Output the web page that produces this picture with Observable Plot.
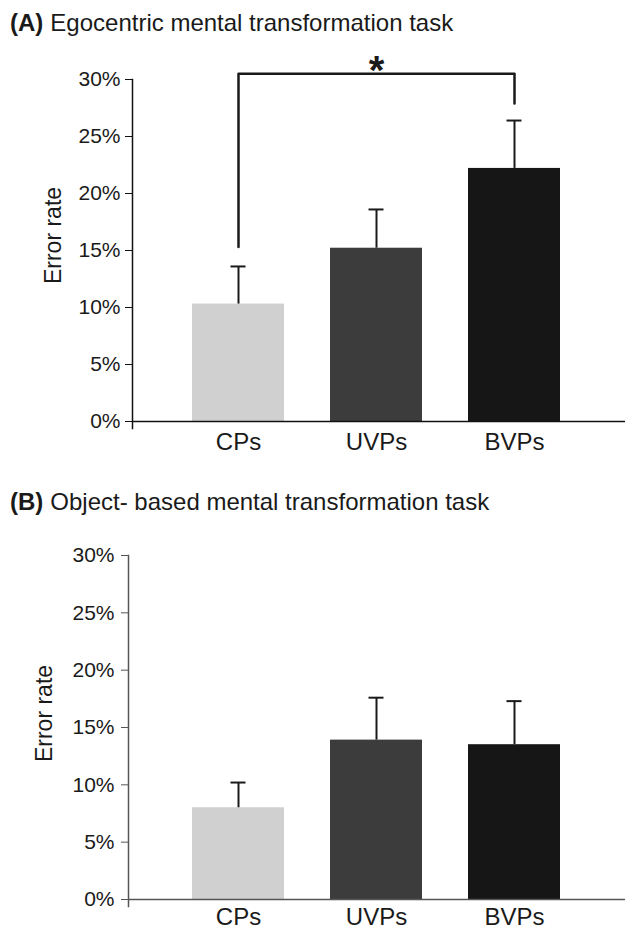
<!DOCTYPE html>
<html>
<head>
<meta charset="utf-8">
<script src="https://cdn.jsdelivr.net/npm/d3@7"></script>
<script src="https://cdn.jsdelivr.net/npm/@observablehq/plot@0.6"></script>
<style>
  html, body { margin: 0; padding: 0; background: #fff; }
  body { width: 625px; height: 929px; overflow: hidden; font-family: "Liberation Sans", Arial, Helvetica, sans-serif; color: #1a1a1a; }
  .title { box-sizing: border-box; width: 625px; font-size: 24px; line-height: 24px; padding-left: 10px; white-space: nowrap; }
  .title b { font-weight: bold; margin-right: 7px; }
  #titleA { height: 45px; padding-top: 11px; }
  #titleB { height: 65px; padding-top: 30px; }
  svg { display: block; overflow: visible; }
</style>
</head>
<body>
<div class="title" id="titleA"><b>(A)</b>Egocentric mental transformation task</div>
<div id="chartA"></div>
<div class="title" id="titleB"><b>(B)</b>Object- based mental transformation task</div>
<div id="chartB"></div>
<script>
// ---- data ----
const groups = ["CPs", "UVPs", "BVPs"];
const barColors = ["#d0d0d0", "#3c3c3c", "#161616"];
const yTicks = [0, 5, 10, 15, 20, 25, 30];

// (A) Egocentric mental transformation task: error rate (%) and error bar (+)
const egoMeans = [10.3, 15.2, 22.2];
const egoErrors = [3.3, 3.4, 4.2];

// (B) Object-based mental transformation task
const objMeans = [8.0, 13.9, 13.5];
const objErrors = [2.2, 3.7, 3.8];

// significance bracket in panel A (CPs vs BVPs)
const sigGroups = ["CPs", "BVPs"];
const sigLegs = [15.3, 27.9];   // lower ends of the bracket legs (%)
const sigTop = 30.5;            // bracket height (%)
const sigMark = "*";
const sigLabelGroup = "UVPs";

function rows(means, errors) {
  return groups.map((g, i) => ({group: g, mean: means[i], err: errors[i]}));
}

function panel({data, marginLeft, insetLeft, height, marginTop, marginBottom, axisColor, tickPadding, xPad, labelDx, labelDy, extra}) {
  return Plot.plot({
    width: 625,
    height,
    marginLeft,
    marginRight: 0,
    marginTop,
    marginBottom,
    style: {fontFamily: "'Liberation Sans', Arial, Helvetica, sans-serif", color: "#1a1a1a", background: "transparent", overflow: "visible"},
    x: {domain: groups, padding: 0.335, insetLeft, insetRight: 18.5, label: null},
    y: {domain: [0, 30], label: null},
    color: {domain: groups, range: barColors},
    marks: [
      Plot.barY(data, {x: "group", y: "mean", fill: "group"}),
      Plot.ruleX(data, {x: "group", y1: "mean", y2: d => d.mean + d.err, stroke: "#1a1a1a", strokeWidth: 2}),
      Plot.tickY(data, {x: "group", y: d => d.mean + d.err, stroke: "#1a1a1a", strokeWidth: 2, insetLeft: 38.5, insetRight: 38.5}),
      Plot.ruleY([0], {stroke: axisColor, strokeWidth: 1.5}),
      Plot.frame({anchor: "left", insetBottom: -7, stroke: axisColor, strokeWidth: 1.5}),
      Plot.axisY({ticks: yTicks, tickFormat: d => d + "%", tickSize: 7, tickPadding, fontSize: 21, stroke: axisColor, fill: "#1a1a1a", label: null}),
      Plot.axisX({tickSize: 0, tickPadding: xPad, fontSize: 24, fill: "#1a1a1a", label: null}),
      Plot.text(["Error rate"], {frameAnchor: "left", textAnchor: "middle", lineAnchor: "middle", rotate: -90, dx: labelDx, dy: labelDy, fontSize: 23, fill: "#1a1a1a"}),
      ...(extra || [])
    ]
  });
}

const bracket = [
  {group: sigGroups[0], v: sigLegs[0]},
  {group: sigGroups[0], v: sigTop},
  {group: sigGroups[1], v: sigTop},
  {group: sigGroups[1], v: sigLegs[1]}
];

const chartA = panel({
  data: rows(egoMeans, egoErrors),
  marginLeft: 132, insetLeft: 12.6,
  height: 415, marginTop: 34, marginBottom: 39,
  axisColor: "#111", tickPadding: 5, xPad: 11,
  labelDx: -79, labelDy: -15,
  extra: [
    Plot.line(bracket, {x: "group", y: "v", stroke: "#1a1a1a", strokeWidth: 2.5}),
    Plot.text([sigMark], {x: () => sigLabelGroup, y: () => sigTop, text: d => d, fontSize: 40, fontWeight: "bold", lineAnchor: "top", dy: -18, fill: "#1a1a1a"})
  ]
});
document.getElementById("chartA").appendChild(chartA);

const chartB = panel({
  data: rows(objMeans, objErrors),
  marginLeft: 128, insetLeft: 16.6,
  height: 404, marginTop: 30, marginBottom: 30,
  axisColor: "#555", tickPadding: 7, xPad: 8,
  labelDx: -84, labelDy: -14
});
document.getElementById("chartB").appendChild(chartB);
</script>
</body>
</html>
